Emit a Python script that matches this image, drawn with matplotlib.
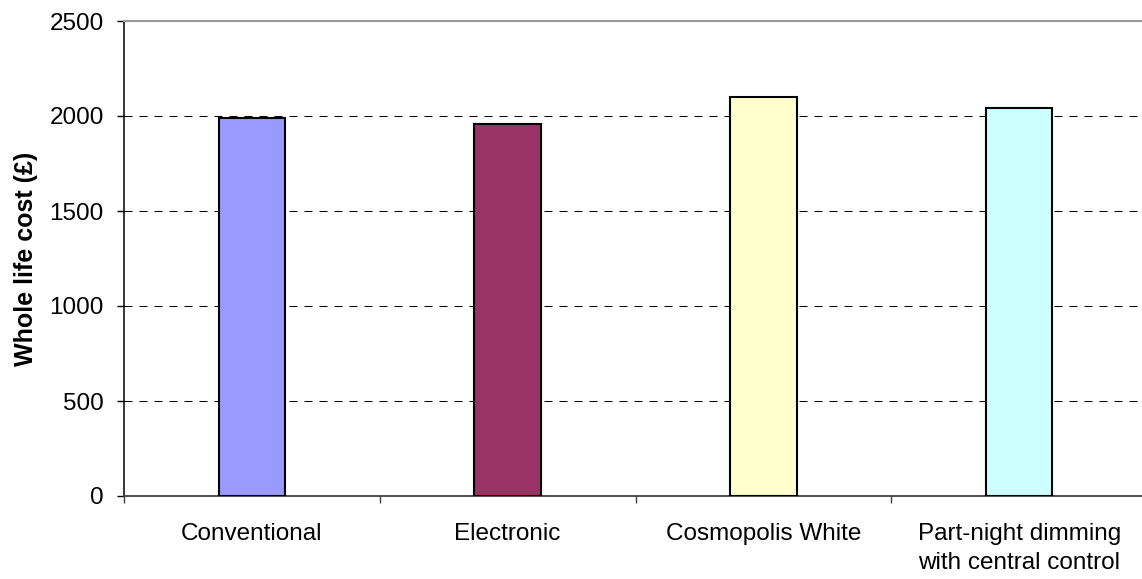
import matplotlib
matplotlib.use("Agg")
import matplotlib.pyplot as plt

plt.rcParams['font.family'] = ['Liberation Sans', 'DejaVu Sans']

categories = ["Conventional", "Electronic", "Cosmopolis White",
              "Part-night dimming\nwith central control"]
costs = [1990, 1960, 2100, 2040]
colors = ["#9999FF", "#993366", "#FFFFCC", "#CCFFFF"]
yticks = [0, 500, 1000, 1500, 2000, 2500]

W, H = 1142, 579
fig = plt.figure(figsize=(W / 100, H / 100), dpi=100)
left, right, top, bottom = 124, 1147, 21, 496
ax = fig.add_axes([left / W, 1 - bottom / H, (right - left) / W, (bottom - top) / H])

x = list(range(len(categories)))
ax.bar(x, costs, width=0.26, color=colors, edgecolor="black", linewidth=1.5, zorder=3)

ax.set_xlim(-0.5, len(categories) - 0.5)
ax.set_ylim(0, 2500)

# dashed horizontal gridlines
for v in yticks[1:-1]:
    ax.axhline(v, color="black", linewidth=0.75, dashes=(7.7, 6.7), zorder=1)

ax.set_yticks(yticks)
ax.set_yticklabels([str(v) for v in yticks])
ax.tick_params(axis="y", which="major", direction="out", length=5, width=1,
               labelsize=17.5, pad=9.5, colors="black")

# category boundary ticks, labels centred on bars
ax.set_xticks([i - 0.5 for i in range(len(categories) + 1)])
ax.set_xticklabels([])
ax.tick_params(axis="x", which="major", direction="out", length=5, width=1, color="#404040")
ax.set_xticks(x, minor=True)
ax.set_xticklabels(categories, minor=True, fontsize=17.5, linespacing=1.42)
ax.tick_params(axis="x", which="minor", length=0, pad=19.5)

ax.set_ylabel("Whole life cost (£)", fontsize=18, fontweight="bold")
ax.yaxis.set_label_coords((38 - left) / (right - left), 0.5)

ax.spines["left"].set_color("black")
ax.spines["left"].set_linewidth(1.1)
ax.spines["bottom"].set_color("#404040")
ax.spines["bottom"].set_linewidth(1.3)
ax.spines["top"].set_color("#999999")
ax.spines["top"].set_linewidth(1.5)
ax.spines["right"].set_visible(False)

fig.savefig("out.png", dpi=100)
